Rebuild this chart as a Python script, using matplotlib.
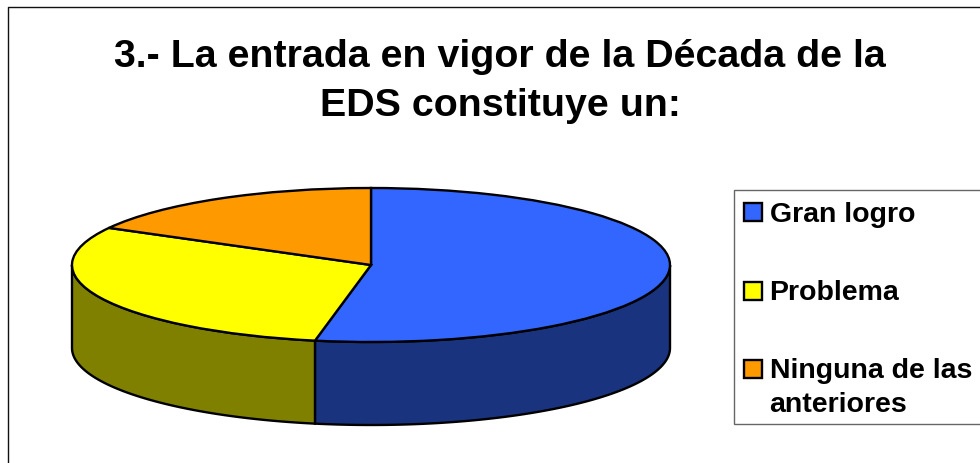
import numpy as np
import matplotlib
matplotlib.use('Agg')
import matplotlib.pyplot as plt
from matplotlib.patches import Rectangle

plt.rcParams['font.family'] = ['Liberation Sans', 'DejaVu Sans']

title = '3.- La entrada en vigor de la Década de la\nEDS constituye un:'
labels = ['Gran logro', 'Problema', 'Ninguna de las\nanteriores']
values = [53, 30, 17]
top_colors = ['#3366FF', '#FFFF00', '#FF9900']
side_colors = ['#19337F', '#808000', '#804C00']

W = 980
H = 463
depth = 83 / 77  # wall height, in units of the flattened radius

fig = plt.figure(figsize=(W / 100, H / 100), dpi=100, facecolor='white')

# overlay in pixel coordinates for the frame, title and legend
bg = fig.add_axes([0, 0, 1, 1])
bg.set_xlim(0, W)
bg.set_ylim(H, 0)
bg.axis('off')
bg.plot([8, 8, W], [H, 7, 7], color='#111111', lw=1.0)
bg.text(500, 81.5, title, ha='center', va='center', fontsize=28.4, fontweight='bold', linespacing=1.44)

# legend
bg.add_patch(Rectangle((734, 190), 250, 234, facecolor='white', edgecolor='#666666', lw=1.0))
ys = [212, 290.5, 368.5]
for label, color, y in zip(labels, top_colors, ys):
    bg.add_patch(Rectangle((744, y - 9), 18, 18, facecolor=color, edgecolor='black', lw=1.7))
    bg.text(769.5, y - 10.5, label, ha='left', va='top', fontsize=20.5, fontweight='bold', linespacing=1.42)

# pie, flattened by switching the axes back to auto aspect
ax = fig.add_axes([72 / W, 1 - 425 / H, 598 / W, 237 / H])
ax.patch.set_alpha(0)
wedges, _ = ax.pie(values, colors=top_colors, startangle=90, counterclock=False,
                   wedgeprops={'edgecolor': 'black', 'linewidth': 1.7, 'zorder': 3, 'clip_on': False})
ax.set_aspect('auto')
ax.set_xlim(-1, 1)
ax.set_ylim(-1 - depth, 1)

# walls: front part of each slice, angles measured clockwise from the top
edges = np.cumsum([0] + values) / sum(values) * 360
for a, b, color in zip(edges[:-1], edges[1:], side_colors):
    a = max(a, 90)
    b = min(b, 270)
    if a >= b:
        continue
    t = np.radians(np.linspace(a, b, 100))
    x = np.sin(t)
    y = np.cos(t)
    ax.fill(np.r_[x, x[::-1]], np.r_[y, y[::-1] - depth], facecolor=color,
            edgecolor='black', lw=1.7, zorder=2, clip_on=False)

fig.savefig('out.png', dpi=100)
